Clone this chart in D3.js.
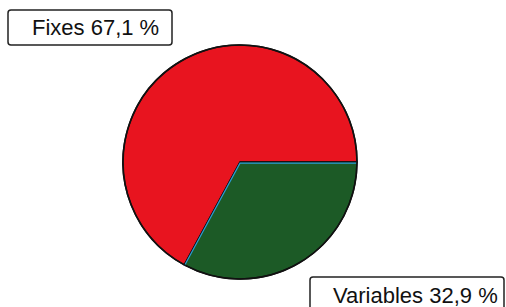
<!DOCTYPE html>
<html><head><meta charset="utf-8">
<script src="https://cdn.jsdelivr.net/npm/d3@7"></script>
<style>body{margin:0;background:#fff}svg{display:block}</style>
</head><body>
<script>
const categories = ["Fixes", "Variables"];
const values = [67.1, 32.9];
const labels = ["Fixes 67,1 %", "Variables 32,9 %"];
const colors = ["#e8141f", "#1c5a26"];

const W = 506, H = 307;
const svg = d3.select("body").append("svg").attr("width", W).attr("height", H);
const cx = 240, cy = 162, r = 117;

const data = categories.map((c, i) => ({cat: c, value: values[i], label: labels[i], color: colors[i]}));
// Variables starts at 3 o'clock going clockwise
const pie = d3.pie().value(d => d.value).sort(null)
  .startAngle(Math.PI / 2 + values[1] / 100 * 2 * Math.PI)
  .endAngle(Math.PI / 2 + values[1] / 100 * 2 * Math.PI + 2 * Math.PI);
const arcs = pie(data);
const arc = d3.arc().innerRadius(0).outerRadius(r);
const g = svg.append("g").attr("transform", `translate(${cx},${cy})`);
g.selectAll("path.slice").data(arcs).enter().append("path")
  .attr("class", "slice")
  .attr("d", arc)
  .attr("fill", d => d.data.color)
  .attr("stroke", "#111")
  .attr("stroke-width", 1.5)
  .attr("stroke-linejoin", "round");
// blue inner edge along the green slice's radii
const green = arcs[1];
const edge = a => [r * Math.sin(a), -r * Math.cos(a)];
const p1 = edge(green.startAngle), p2 = edge(green.endAngle);
g.append("path")
  .attr("d", `M${p1[0]},${p1[1]}L0,0L${p2[0]},${p2[1]}`)
  .attr("fill", "none").attr("stroke", "#2d9fd6").attr("stroke-width", 1.2)
  .attr("transform", "translate(0,1.2)");
g.append("circle").attr("r", r).attr("fill", "none").attr("stroke", "#111").attr("stroke-width", 1.6);

// label boxes
const boxes = [
  {x: 8, y: 10, w: 164, h: 35, tx: 32, ty: 35, text: labels[0]},
  {x: 310, y: 277, w: 194, h: 40, tx: 333, ty: 303, text: labels[1]}
];
boxes.forEach(b => {
  svg.append("rect").attr("x", b.x).attr("y", b.y).attr("width", b.w).attr("height", b.h)
    .attr("rx", 3).attr("fill", "#fff").attr("stroke", "#222").attr("stroke-width", 1.5);
  svg.append("text").attr("x", b.tx).attr("y", b.ty)
    .attr("font-family", "Liberation Sans, Arial, sans-serif").attr("font-size", 22)
    .attr("fill", "#111").text(b.text);
});
</script>
</body></html>
